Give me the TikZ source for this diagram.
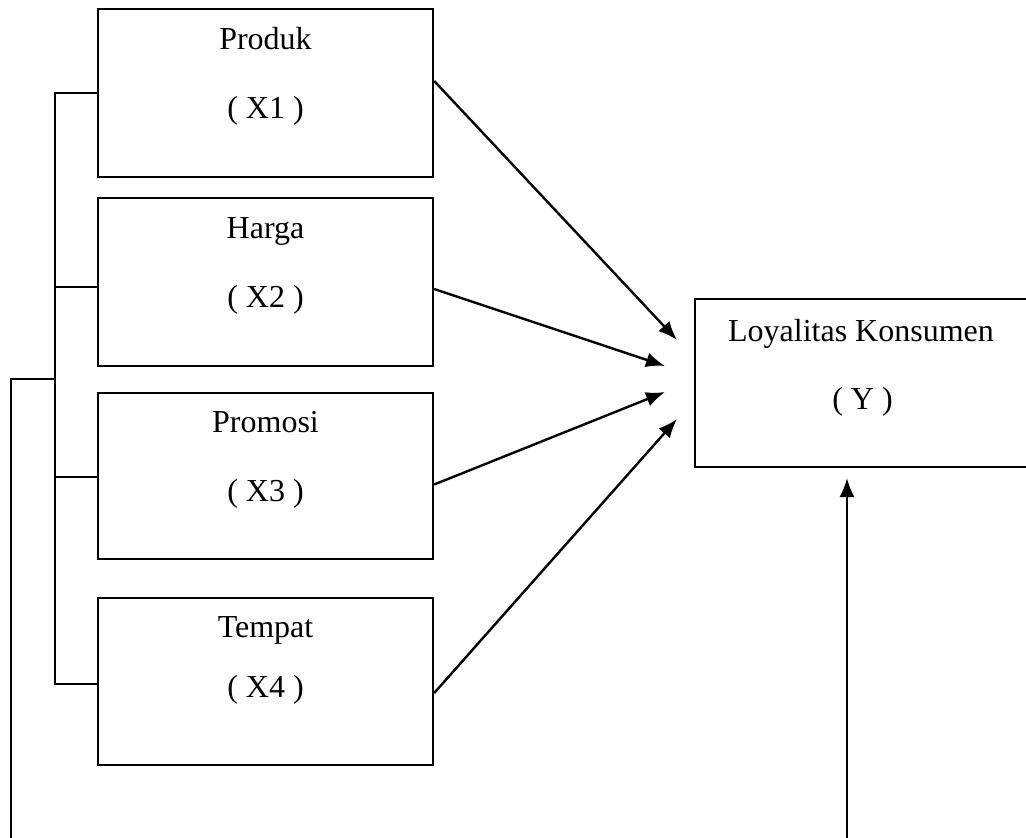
\documentclass[tikz,border=0pt]{standalone}
\usepackage{fontspec}
\setmainfont{Liberation Serif}
\usetikzlibrary{arrows.meta}
\begin{document}
\begin{tikzpicture}[x=1pt,y=-1pt,
  box/.style={draw, line width=2.4pt, minimum width=335pt, inner sep=0pt},
  lbl/.style={anchor=base, inner sep=0pt, font=\fontsize{32}{38}\selectfont},
  line/.style={line width=2.4pt},
  arr/.style={line width=2.4pt, -{Latex[length=19pt,width=15pt]}}]
\useasboundingbox (0,0) rectangle (1026,838);
% boxes
\node[box, minimum height=168pt] (x1) at (265.5,93) {};
\node[box, minimum height=168pt] (x2) at (265.5,282) {};
\node[box, minimum height=166pt] (x3) at (265.5,476) {};
\node[box, minimum height=167pt] (x4) at (265.5,681.5) {};
\node[box, minimum height=168pt] (y) at (862.5,383) {};
% labels
\node[lbl] (t1a) at (265.5,49) {Produk};
\node[lbl] (t1b) at (265.5,118) {( X1 )};
\node[lbl] (t2a) at (265.5,238) {Harga};
\node[lbl] (t2b) at (265.5,307) {( X2 )};
\node[lbl] (t3a) at (265.5,432) {Promosi};
\node[lbl] (t3b) at (265.5,501) {( X3 )};
\node[lbl] (t4a) at (265.5,637) {Tempat};
\node[lbl] (t4b) at (265.5,697) {( X4 )};
\node[lbl] (tya) at (861,341) {Loyalitas Konsumen};
\node[lbl] (tyb) at (862.5,409) {( Y )};
% arrow tips
\coordinate (p1) at (677,340);
\coordinate (p2) at (665,366);
\coordinate (p3) at (665,392);
\coordinate (p4) at (677,419);
\draw[arr] ([yshift=12pt]x1.east) -- (p1);
\draw[arr] ([yshift=-7pt]x2.east) -- (p2);
\draw[arr] ([yshift=-8.5pt]x3.east) -- (p3);
\draw[arr] ([yshift=-11.5pt]x4.east) -- (p4);
% bracket
\coordinate (b1) at (55,93);
\coordinate (b4) at (55,684);
\draw[line] (x1.west) -- (b1) -- (b4) -- ([yshift=-2.5pt]x4.west);
\draw[line] ([yshift=-5pt]x2.west) -- (55,287);
\draw[line] ([yshift=-1pt]x3.west) -- (55,477);
% outer loop
\coordinate (bm) at (55,379);
\coordinate (bl) at (11,842);
\coordinate (br) at (847,842);
\coordinate (yt) at (847,478);
\draw[line] (bm) -- (11,379) -- (bl);
\draw[arr] (br) -- (yt);
\end{tikzpicture}
\end{document}
